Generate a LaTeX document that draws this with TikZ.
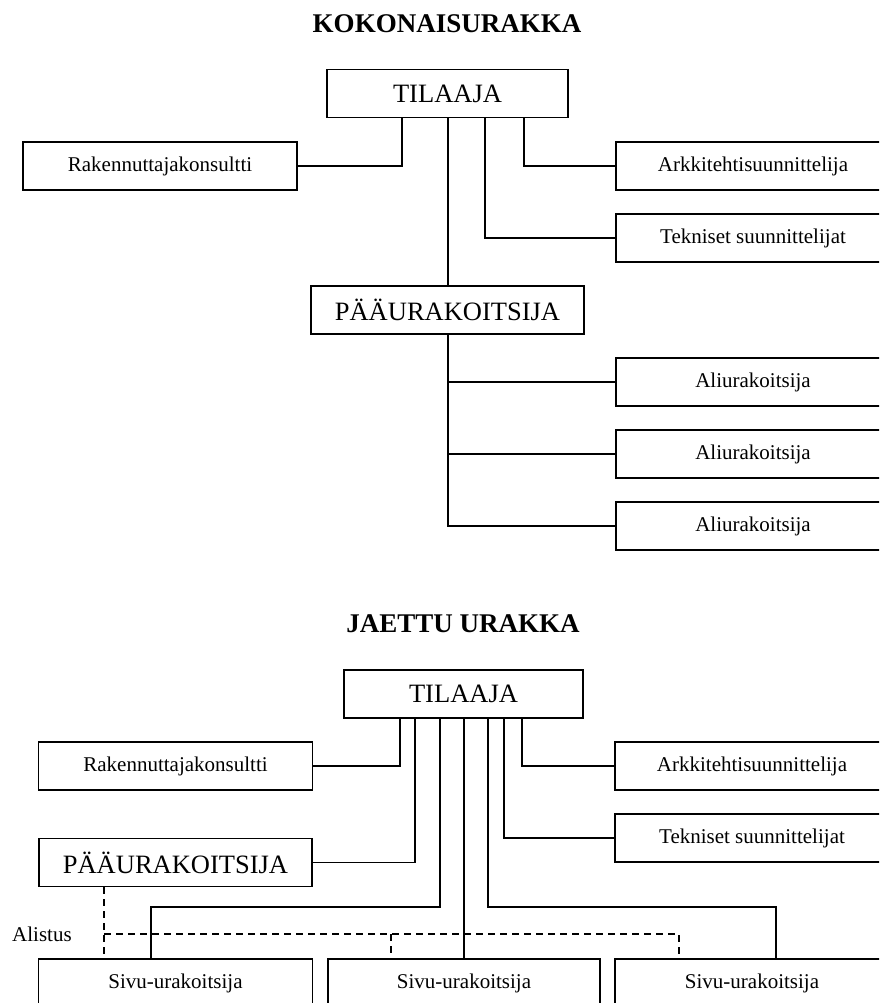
\documentclass[tikz,border=0pt]{standalone}
\usepackage{fontspec}
\setmainfont{Liberation Serif}
\begin{document}
\begin{tikzpicture}[x=1pt,y=-1pt,
  box/.style={draw,line width=1.5pt,inner sep=0pt,anchor=center,minimum height=48pt},
  small/.style={box,minimum width=274pt,font=\fontsize{21}{25}\selectfont},
  big/.style={box,font=\fontsize{26.5}{30}\selectfont},
  ttl/.style={font=\bfseries\fontsize{27}{31}\selectfont,inner sep=0pt},
  conn/.style={line width=1.5pt},
  dsh/.style={line width=1.4pt,dash pattern=on 7pt off 5pt}]
\useasboundingbox (0,0) rectangle (879,1003);
\clip (0,0) rectangle (879,1003);
% ---------- KOKONAISURAKKA ----------
\node[ttl] (t1) at (447,24) {KOKONAISURAKKA};
\node[big,minimum width=241pt] (A1) at (447.5,93.5) {TILAAJA};
\node[small] (R1) at (160,166) {Rakennuttajakonsultti};
\node[small] (K1) at (753,166) {Arkkitehtisuunnittelija};
\node[small] (E1) at (753,238) {Tekniset suunnittelijat};
\node[big,minimum width=273pt] (P1) at (447.5,310) {PÄÄURAKOITSIJA};
\node[small] (L1) at (753,382) {Aliurakoitsija};
\node[small] (L2) at (753,454) {Aliurakoitsija};
\node[small] (L3) at (753,526) {Aliurakoitsija};
\draw[conn] (A1.south -| 402,0) |- (R1.east);
\draw[conn] (A1.south -| 448,0) -- (P1.north -| 448,0);
\draw[conn] (A1.south -| 485,0) |- (E1.west);
\draw[conn] (A1.south -| 524,0) |- (K1.west);
\draw[conn] (P1.south -| 448,0) |- (L3.west);
\draw[conn] (L1.west) -- (L1.west -| 448,0);
\draw[conn] (L2.west) -- (L2.west -| 448,0);
% ---------- JAETTU URAKKA ----------
\node[ttl] (t2) at (463,624) {JAETTU URAKKA};
\node[big,minimum width=239pt] (A2) at (463.5,694) {TILAAJA};
\node[small] (R2) at (175.5,766) {Rakennuttajakonsultti};
\node[small] (K2) at (752,766) {Arkkitehtisuunnittelija};
\node[small] (E2) at (752,838) {Tekniset suunnittelijat};
\node[big,minimum width=273pt] (P2) at (175.5,862.5) {PÄÄURAKOITSIJA};
\node[small] (S1) at (175.5,983) {Sivu-urakoitsija};
\node[small,minimum width=272pt] (S2) at (464,983) {Sivu-urakoitsija};
\node[small] (S3) at (752,983) {Sivu-urakoitsija};
\node[font=\fontsize{21}{25}\selectfont,inner sep=0pt,anchor=west] (al) at (12,934) {Alistus};
\draw[conn] (A2.south -| 400,0) |- (R2.east);
\draw[conn] (A2.south -| 415,0) |- (P2.east);
\draw[conn] (A2.south -| 440,0) |- (151,907) -- (S1.north -| 151,0);
\draw[conn] (A2.south -| 464,0) -- (S2.north -| 464,0);
\draw[conn] (A2.south -| 488,0) |- (776,907) -- (S3.north -| 776,0);
\draw[conn] (A2.south -| 504,0) |- (E2.west);
\draw[conn] (A2.south -| 522,0) |- (K2.west);
\draw[dsh] (P2.south -| 104,0) -- (S1.north -| 104,0);
\draw[dsh] (104,934) -- (679,934) -- (S3.north -| 679,0);
\draw[dsh] (391,934) -- (S2.north -| 391,0);
\end{tikzpicture}
\end{document}
